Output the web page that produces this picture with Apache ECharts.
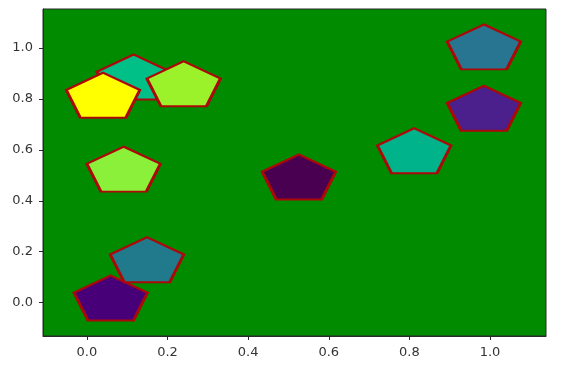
<!DOCTYPE html>
<html>
<head>
<meta charset="utf-8">
<script src="https://cdn.jsdelivr.net/npm/echarts@6/dist/echarts.min.js"></script>
<style>
html,body{margin:0;padding:0;background:#ffffff;}
#chart{width:566px;height:371px;}
</style>
</head>
<body>
<div id="chart"></div>
<script>
// Data
var xValues = [0.059, 0.149, 0.116, 0.040, 0.240, 0.091, 0.526, 0.812, 0.985, 0.985];
var yValues = [0.010, 0.160, 0.878, 0.806, 0.851, 0.516, 0.485, 0.588, 0.755, 0.996];
var xTicks = [0.0, 0.2, 0.4, 0.6, 0.8, 1.0];
var yTicks = [0.0, 0.2, 0.4, 0.6, 0.8, 1.0];

// Per-point fill colours (style)
var pointColors = ['#480078', '#21798c', '#00c088', '#ffff00', '#9cf22a', '#8af03a', '#4a0050', '#00b38a', '#4b1f8c', '#277590'];

var pentagon = 'path://M0,-100L95.1,-30.9L58.8,80.9L-58.8,80.9L-95.1,-30.9Z';

var points = xValues.map(function (x, i) {
  return { value: [x, yValues[i]], itemStyle: { color: pointColors[i] } };
});

var chart = echarts.init(document.getElementById('chart'), null, { renderer: 'canvas' });
var labelStyle = { fontFamily: 'DejaVu Sans', fontSize: 13, color: '#333333' };
chart.setOption({
  animation: false,
  backgroundColor: '#ffffff',
  grid: {
    left: 43, right: 20, top: 9, bottom: 35,
    show: true, backgroundColor: '#008b00', borderColor: '#2a2a2a', borderWidth: 1,
    containLabel: false
  },
  xAxis: {
    type: 'value', min: -0.109, max: 1.139,
    axisLine: { show: true, onZero: false, lineStyle: { color: '#2a2a2a', width: 1 } },
    axisTick: { show: true, length: 4, lineStyle: { color: '#2a2a2a' }, customValues: xTicks },
    axisLabel: Object.assign({ margin: 10, customValues: xTicks, formatter: function (v) { return v.toFixed(1); } }, labelStyle),
    splitLine: { show: false }
  },
  yAxis: {
    type: 'value', min: -0.131, max: 1.153,
    axisLine: { show: true, onZero: false, lineStyle: { color: '#2a2a2a', width: 1 } },
    axisTick: { show: true, length: 4, lineStyle: { color: '#2a2a2a' }, customValues: yTicks },
    axisLabel: Object.assign({ margin: 10, customValues: yTicks, formatter: function (v) { return v.toFixed(1); } }, labelStyle),
    splitLine: { show: false }
  },
  series: [{
    type: 'scatter',
    symbol: pentagon,
    symbolSize: [73.5, 45],
    symbolOffset: [0, -2.1],
    itemStyle: { borderColor: '#ad0808', borderWidth: 2.5, opacity: 1 },
    emphasis: { disabled: true },
    data: points
  }]
});
</script>
</body>
</html>
